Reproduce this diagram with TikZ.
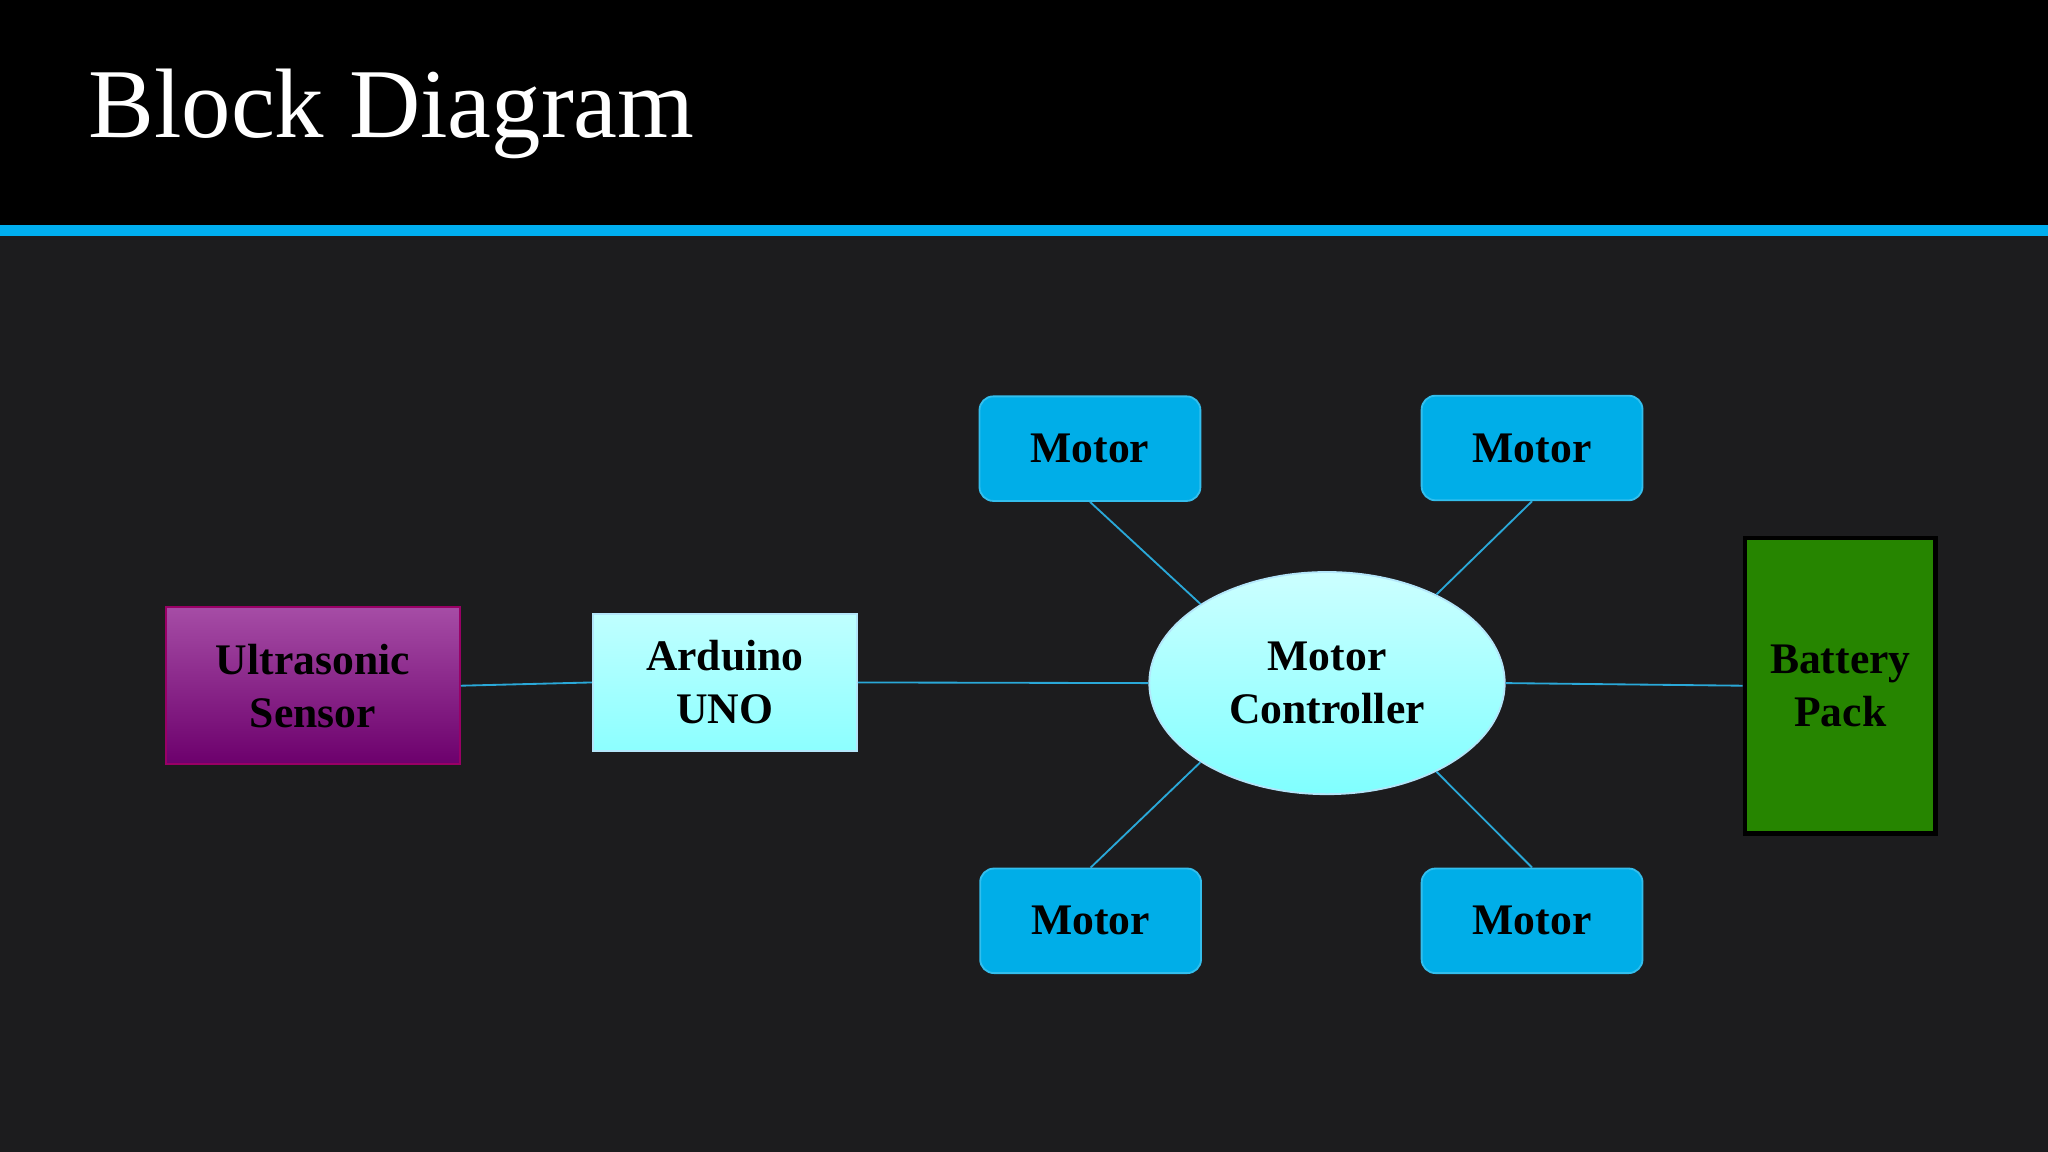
\documentclass[tikz,border=0pt]{standalone}
\usepackage{fontspec}
\setmainfont{Liberation Serif}
\usetikzlibrary{shapes.geometric}
\definecolor{bg}{HTML}{1C1C1E}
\definecolor{stripe}{HTML}{00AEEF}
\definecolor{wire}{HTML}{2AA8D8}
\definecolor{motorc}{HTML}{00AEE8}
\begin{document}
\begin{tikzpicture}[x=0.01cm,y=-0.01cm,
  lbl/.style={font=\fontsize{9.5}{11.5}\selectfont\bfseries,align=center,text=black},
  motor/.style={lbl,draw=motorc!80!white,fill=motorc,rounded corners=3pt,minimum width=1.69cm,minimum height=0.8cm},
  wire/.style={draw=wire,line width=0.4pt}]
  \useasboundingbox (0,0) rectangle (1568,882);
  \fill[bg] (0,0) rectangle (1568,882);
  \fill[black] (0,0) rectangle (1568,172);
  \fill[stripe] (0,172) rectangle (1568,181);
  \node[anchor=base west,text=white,font=\fontsize{21.5}{24}\selectfont,inner sep=0pt] (title) at (67,105) {Block Diagram};

  \node[lbl,draw=purple!40!violet,top color=violet!70!white,bottom color=violet!85!black,minimum width=2.25cm,minimum height=1.2cm] (us) at (239.5,525) {Ultrasonic\\Sensor};
  \node[lbl,draw=cyan!30!white,top color=cyan!25!white,bottom color=cyan!45!white,minimum width=2.02cm,minimum height=1.05cm] (ard) at (555,522.5) {Arduino\\UNO};
  \node[lbl,ellipse,draw=cyan!30!white,top color=cyan!20!white,bottom color=cyan!50!white,minimum width=2.72cm,minimum height=1.7cm,inner sep=0pt] (mc) at (1016,523) {Motor\\Controller};
  \node[lbl,draw=black,line width=1pt,fill=green!40!black!80!lime,minimum width=1.46cm,minimum height=2.26cm] (bat) at (1409,525) {Battery\\Pack};
  \node[motor] (m1) at (834.5,343.5) {Motor};
  \node[motor] (m2) at (1173,343) {Motor};
  \node[motor] (m3) at (835,705) {Motor};
  \node[motor] (m4) at (1173,705) {Motor};

  \draw[wire] (us.east) -- (ard.west);
  \draw[wire] (ard.east) -- (mc.west);
  \draw[wire] (mc.east) -- (bat.west);
  \draw[wire] (m1.south) -- (mc.148);
  \draw[wire] (m2.south) -- (mc.39);
  \draw[wire] (m3.north) -- (mc.212);
  \draw[wire] (m4.north) -- (mc.321);
\end{tikzpicture}
\end{document}
